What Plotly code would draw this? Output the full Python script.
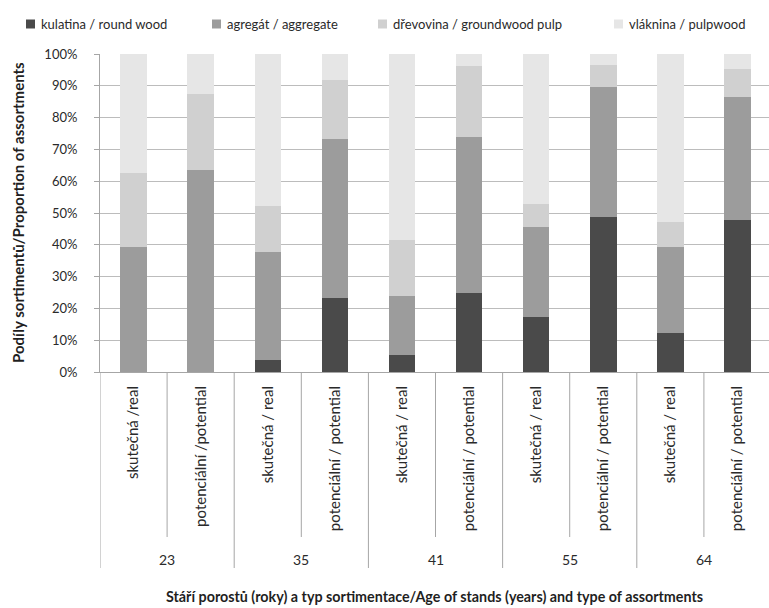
import plotly.graph_objects as go

# Stand age groups and sortiment type labels (two bars per age group)
ages = ["23", "35", "41", "55", "64"]
type_labels = [
    "skutečná /real", "potenciální /potential",
    "skutečná / real", "potenciální / potential",
    "skutečná / real", "potenciální / potential",
    "skutečná / real", "potenciální / potential",
    "skutečná / real", "potenciální / potential",
]

# Share of each assortment (%) for every bar
kulatina = [0.0, 0.0, 3.8, 23.3, 5.3, 24.7, 17.3, 48.6, 12.3, 47.9]
agregat = [39.3, 63.4, 33.9, 50.0, 18.6, 49.3, 28.3, 41.0, 27.0, 38.6]
drevovina = [23.3, 24.0, 14.5, 18.6, 17.5, 22.2, 7.1, 6.9, 7.9, 8.8]
vlaknina = [37.4, 12.6, 47.8, 8.1, 58.6, 3.8, 47.3, 3.5, 52.8, 4.7]

series_names = [
    "kulatina / round wood",
    "agregát / aggregate",
    "dřevovina / groundwood pulp",
    "vláknina / pulpwood",
]
y_ticks = [0, 10, 20, 30, 40, 50, 60, 70, 80, 90, 100]
y_tick_text = [f"{v}%" for v in y_ticks]

y_title = "Podíly sortimentů/Proportion of assortments"
x_title = "Stáří porostů (roky) a typ sortimentace/Age of stands (years) and type of assortments"

# ---- styling ----
colors = ["#4a4a4a", "#9c9c9c", "#d0d0d0", "#e6e6e6"]
FONT = "Lato"
TEXT = "#2a2a2a"
GRID = "#bcbcbc"
AXIS = "#a6a6a6"

W, H = 769, 608
L, R, T, B = 100, 0, 54, 236
plot_w = W - L - R
plot_h = H - T - B


def px_x(px):
    """pixel x -> paper x"""
    return (px - L) / plot_w


def px_y(py):
    """pixel y -> paper y"""
    return (H - B - py) / plot_h


# one unique category per bar (age + position in group)
cats = [f"{ages[i // 2]}_{i % 2}" for i in range(len(type_labels))]

fig = go.Figure()
for name, vals, col in zip(series_names, [kulatina, agregat, drevovina, vlaknina], colors):
    fig.add_trace(go.Bar(
        x=cats, y=vals, name=name,
        marker=dict(color=col, line=dict(width=0)),
        showlegend=False,
    ))

shapes = []
annotations = []

# divider lines below the category axis
for k in range(len(cats)):
    b = k - 0.5
    long_line = (k % 2 == 0)
    shapes.append(dict(
        type="line", xref="x", yref="paper",
        x0=b, x1=b, y0=0, y1=px_y(568 if long_line else 537),
        line=dict(color=AXIS, width=1),
    ))

# age group labels
for g, age in enumerate(ages):
    annotations.append(dict(
        x=2 * g + 0.5, y=px_y(559), xref="x", yref="paper",
        text=age, showarrow=False, xanchor="center", yanchor="middle",
        font=dict(family=FONT, size=14, color=TEXT),
    ))

# legend row: square swatch + label
legend_sq_left = [26, 212, 378, 614]
legend_y = 24
sq = 9
for name, col, left in zip(series_names, colors, legend_sq_left):
    shapes.append(dict(
        type="rect", xref="paper", yref="paper",
        x0=px_x(left), x1=px_x(left + sq),
        y0=px_y(legend_y + sq / 2), y1=px_y(legend_y - sq / 2),
        fillcolor=col, line=dict(width=0),
    ))
    annotations.append(dict(
        x=px_x(left + sq + 4), y=px_y(legend_y), xref="paper", yref="paper",
        text=name, showarrow=False, xanchor="left", yanchor="middle",
        font=dict(family=FONT, size=13, color=TEXT),
    ))

# x axis title
annotations.append(dict(
    x=px_x(434), y=px_y(596), xref="paper", yref="paper",
    text=f"<b>{x_title}</b>", showarrow=False, xanchor="center", yanchor="middle",
    font=dict(family=FONT, size=14.3, color="#1f1f1f"),
))
# y axis title
annotations.append(dict(
    x=px_x(18), y=px_y(213), xref="paper", yref="paper",
    text=f"<b>{y_title}</b>", showarrow=False, textangle=-90,
    xanchor="center", yanchor="middle",
    font=dict(family=FONT, size=15, color="#1f1f1f"),
))

fig.update_layout(
    width=W, height=H,
    margin=dict(l=L, r=R, t=T, b=B, pad=0),
    barmode="stack",
    bargap=0.605,
    plot_bgcolor="white",
    paper_bgcolor="white",
    font=dict(family=FONT, size=13, color=TEXT),
    shapes=shapes,
    annotations=annotations,
    xaxis=dict(
        type="category",
        categoryorder="array", categoryarray=cats,
        tickmode="array", tickvals=cats, ticktext=type_labels,
        tickangle=-90,
        ticks="", ticklabelstandoff=7,
        showline=True, linecolor=AXIS, linewidth=1,
        showgrid=False, zeroline=False,
        range=[-0.5, 9.47],
        tickfont=dict(family=FONT, size=15, color=TEXT),
    ),
    yaxis=dict(
        range=[0, 100],
        tickmode="array", tickvals=y_ticks, ticktext=y_tick_text,
        ticks="outside", ticklen=5, tickcolor=AXIS,
        ticklabelstandoff=14,
        showline=True, linecolor=AXIS, linewidth=1,
        showgrid=True, gridcolor=GRID, gridwidth=1,
        zeroline=False,
        tickfont=dict(family=FONT, size=13, color=TEXT),
    ),
)

fig.write_html("out.html")
